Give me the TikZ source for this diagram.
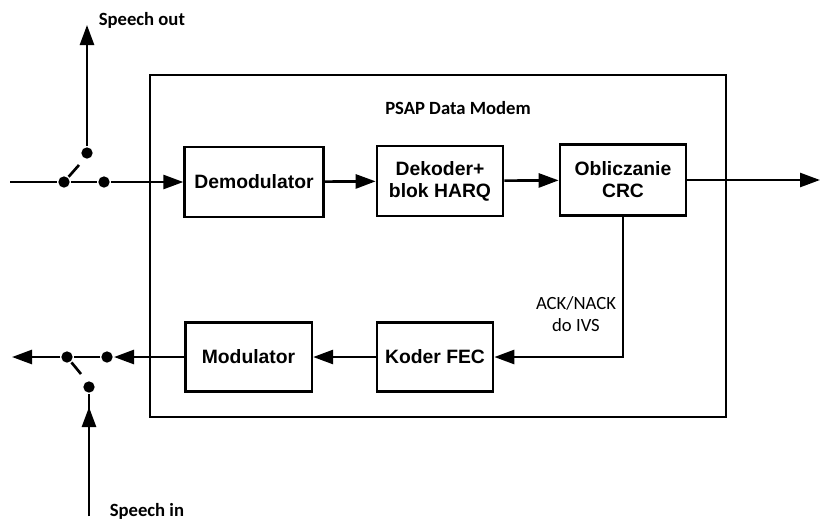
\documentclass[tikz,border=0pt]{standalone}
\usepackage{fontspec}
\setmainfont{Carlito}
\newfontfamily\arialfont{Liberation Sans}
\usetikzlibrary{arrows.meta}
\tikzset{every path/.style={line width=2pt}, block/.style={draw, line width=2pt, inner sep=2pt, minimum height=52.5pt, align=center, font=\arialfont\bfseries\fontsize{14.5}{16.5}\selectfont}, contact/.style={circle, fill, inner sep=0pt, minimum size=8.5pt}, arr/.style={-{Triangle[length=15pt,width=10.5pt]}}, lbl/.style={font=\fontsize{14}{17}\selectfont, align=center}}

\begin{document}
\begin{tikzpicture}[x=0.75pt, y=-0.75pt]
  \useasboundingbox (0,0) rectangle (821,522);
  \draw (150,75) rectangle (726,417);
  \node[lbl, font=\bfseries\fontsize{14}{17}\selectfont] (title) at (458,108) {PSAP Data Modem};
  \node[block, minimum width=104pt] (demod) at (254,182) {Demodulator};
  \node[block, minimum width=94.5pt] (dek) at (440,181) {Dekoder+\\blok HARQ};
  \node[block, minimum width=94.5pt, minimum height=53pt] (crc) at (623,180) {Obliczanie\\CRC};
  \node[block, minimum width=95pt, minimum height=52pt] (mod) at (248.5,357) {Modulator};
  \node[block, minimum width=87pt, minimum height=52pt] (fec) at (435,357) {Koder FEC};
  \node[lbl] (ack) at (576,314) {ACK/NACK\\do IVS};
  \node[contact] (a) at (64,182) {};
  \node[contact] (b) at (104,182) {};
  \node[contact] (c) at (87,153) {};
  \node[contact] (d) at (67,357) {};
  \node[contact] (e) at (107,357) {};
  \node[contact] (f) at (89,387) {};
  \coordinate (in) at (10,182);
  \coordinate (out) at (820,180);
  \coordinate (so) at (87,25);
  \coordinate (si) at (89,516);
  \coordinate (sl) at (12,357);
  \node[lbl, font=\bfseries\fontsize{14}{17}\selectfont, anchor=west] at (93,20) {Speech out};
  \node[lbl, font=\bfseries\fontsize{14}{17}\selectfont, anchor=base west] at (104,516) {Speech in};
  \draw (in) -- (a) -- (b);
  \draw (a) -- (79,165);
  \draw[arr] (b) -- (demod);
  \draw[arr] (c) -- (so);
  \draw[arr] (demod) -- (dek);
  \draw[arr] (dek) -- (crc);
  \draw[arr] (crc) -- (out);
  \draw[arr] (crc) |- (fec);
  \draw[arr] (fec) -- (mod);
  \draw[arr] (mod) -- (e);
  \draw[arr] (e) -- (d) -- (sl);
  \draw (d) -- (81,374);
  \draw (si) -- (f);
  \draw[arr] (si) -- (89,407);
\end{tikzpicture}
\end{document}
